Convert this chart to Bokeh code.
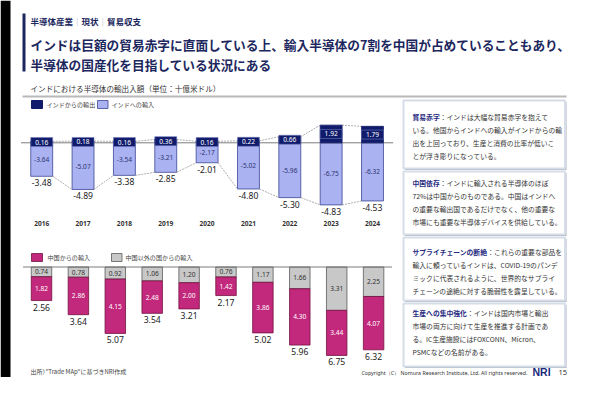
from bokeh.plotting import figure
from bokeh.models import Range1d, ColumnDataSource
from bokeh.embed import file_html
from bokeh.resources import INLINE
from bokeh.core.properties import value

# ---------------- data ----------------
years = ["2016", "2017", "2018", "2019", "2020", "2021", "2022", "2023", "2024"]
exports = [0.16, 0.18, 0.16, 0.36, 0.16, 0.22, 0.66, 1.92, 1.79]
imports = [-3.64, -5.07, -3.54, -3.21, -2.17, -5.02, -5.96, -6.75, -6.32]
balance = [-3.48, -4.89, -3.38, -2.85, -2.01, -4.80, -5.30, -4.83, -4.53]

years_b = ["2015", "2016", "2017", "2018", "2019", "2020", "2021", "2022", "2023", "2024"]
from_china = [1.82, 2.86, 4.15, 2.48, 2.00, 1.42, 3.86, 4.30, 3.44, 4.07]
from_others = [0.74, 0.78, 0.92, 1.06, 1.20, 0.76, 1.17, 1.66, 3.31, 2.25]
import_total = [2.56, 3.64, 5.07, 3.54, 3.21, 2.17, 5.02, 5.96, 6.75, 6.32]

legend_top = ["インドからの輸出", "インドへの輸入"]
legend_bot = ["中国からの輸入", "中国以外の国からの輸入"]

header = ["半導体産業", "現状", "貿易収支"]
title_lines = ["インドは巨額の貿易赤字に直面している上、輸入半導体の7割を中国が占めていることもあり、",
               "半導体の国産化を目指している状況にある"]
subtitle = "インドにおける半導体の輸出入額（単位：十億米ドル）"
notes = [
    ("貿易赤字", ["：インドは大幅な貿易赤字を抱えて",
              "いる。他国からインドへの輸入がインドからの輸",
              "出を上回っており、生産と消費の比率が低いこ",
              "とが浮き彫りになっている。"]),
    ("中国依存", ["：インドに輸入される半導体のほぼ",
              "72%は中国からのものである。中国はインドへ",
              "の重要な輸出国であるだけでなく、他の重要な",
              "市場にも重要な半導体デバイスを供給している。"]),
    ("サプライチェーンの断絶", ["：これらの重要な部品を",
                     "輸入に頼っているインドは、COVID-19のパンデ",
                     "ミックに代表されるように、世界的なサプライ",
                     "チェーンの途絶に対する脆弱性を露呈している。"]),
    ("生産への集中強化", ["：インドは国内市場と輸出",
                  "市場の両方に向けて生産を推進する計画であ",
                  "る。IC生産施設にはFOXCONN、Micron、",
                  "PSMCなどの名前がある。"]),
]
source_note = "出所）”Trade MAp”に基づきNRI作成"
copyright_txt = "Copyright（C） Nomura Research Institute, Ltd. All rights reserved."
page_no = "15"

# ---------------- style ----------------
JP = "Noto Sans CJK JP"
NUM = "Noto Sans"
NAVY = "#101c6b"
TITLE = "#1c275e"
LAV = "#aab2f2"
LAV_LINE = "#3b4694"
MAG = "#c2287c"
MAG_LINE = "#74123f"
GRAY = "#c8c8c8"
GRAY_LINE = "#5a5a5a"

W, H = 574, 377
X0, Y0 = 0, 0

p = figure(width=W, height=H, x_range=Range1d(X0, X0 + W), y_range=Range1d(Y0 + H, Y0),
           output_backend="svg", toolbar_location=None, min_border=0,
           x_axis_type=None, y_axis_type=None, outline_line_color=None,
           background_fill_color="white", border_fill_color="white")

# chart scales (pixel placement of the two charts)
TX0, TSTEP, TZERO, TPPU = 41.2, 41.35, 142.3, 9.2
BX0, BSTEP, BZERO, BPPU = 41.0, 36.9, 266.5, 13.1
p.extra_x_ranges["tx"] = Range1d((X0 - TX0) / TSTEP, (X0 + W - TX0) / TSTEP)
p.extra_y_ranges["ty"] = Range1d((TZERO - (Y0 + H)) / TPPU, (TZERO - Y0) / TPPU)
p.extra_x_ranges["bx"] = Range1d((X0 - BX0) / BSTEP, (X0 + W - BX0) / BSTEP)
p.extra_y_ranges["by"] = Range1d((BZERO - (Y0 + H)) / BPPU, (BZERO - Y0) / BPPU)


def txt(x, y, s, size, color="#333333", bold=False, align="left", font=JP, baseline="middle"):
    p.text(x=[x], y=[y], text=[s], text_font=value(font), text_font_size=f"{size}px",
           text_color=color, text_font_style="bold" if bold else "normal",
           text_align=align, text_baseline=baseline)


# ---------------- frame / header ----------------
p.quad(left=[0], right=[10], top=[0], bottom=[H], fill_color="black", line_color=None)
p.quad(left=[22], right=[25], top=[13], bottom=[71], fill_color=TITLE, line_color=None)

hx = 30
fs_h = 8.5
for i, word in enumerate(header):
    txt(hx, 20, word, fs_h, color=TITLE, bold=True)
    hx += len(word) * fs_h
    if i < len(header) - 1:
        txt(hx, 20, "｜", fs_h, color="#b0b0b0")
        hx += fs_h
txt(30, 44, title_lines[0], 12.7, color=TITLE, bold=True)
txt(30, 63.5, title_lines[1], 12.7, color=TITLE, bold=True)
txt(30, 88, subtitle, 7.6, color="#333333")
p.segment(x0=[22], y0=[96], x1=[566], y1=[96], line_color="#b9b9b9", line_width=2)

# ---------------- top chart ----------------
n = len(years)
bw = 0.53
src_t = ColumnDataSource(dict(
    x=list(range(n)), exp=exports, imp=imports, net=balance,
    exp_mid=[e / 2 for e in exports], imp_mid=[v / 2 for v in imports],
    exp_lbl=[f"{e:.2f}" for e in exports], imp_lbl=[f"{v:.2f}" for v in imports],
    net_lbl=[f"{v:.2f}" for v in balance], year=years,
    year_y=[223] * n))

p.vbar(x="x", top="imp", bottom=0, width=bw, fill_color=LAV, line_color=LAV_LINE, line_width=0.8,
       source=src_t, x_range_name="tx", y_range_name="ty")
# connector (series) lines
p.segment(x0=[i + bw / 2 for i in range(n - 1)], y0=imports[:-1],
          x1=[i + 1 - bw / 2 for i in range(n - 1)], y1=imports[1:],
          line_color="#8c8c8c", line_width=0.7, line_dash="2 1", x_range_name="tx", y_range_name="ty")
p.segment(x0=[i + bw / 2 for i in range(n - 1)], y0=exports[:-1],
          x1=[i + 1 - bw / 2 for i in range(n - 1)], y1=exports[1:],
          line_color="#8c8c8c", line_width=0.7, line_dash="2 1", x_range_name="tx", y_range_name="ty")
p.segment(x0=[-0.5], y0=[0], x1=[n - 0.5], y1=[0], line_color="#6e6e6e", line_width=0.9,
          x_range_name="tx", y_range_name="ty")
p.vbar(x="x", top="exp", bottom=0, width=bw, fill_color=NAVY, line_color=NAVY, line_width=0.8,
       source=src_t, x_range_name="tx", y_range_name="ty")
p.rect(x="x", y="exp_mid", width=bw, height=9, height_units="screen", fill_color=NAVY,
       line_color="#6f78b8", line_width=0.6, source=src_t, x_range_name="tx", y_range_name="ty")
p.text(x="x", y="exp_mid", text="exp_lbl", text_font=value(NUM), text_font_size="6.6px",
       text_color="white", text_align="center", text_baseline="middle",
       source=src_t, x_range_name="tx", y_range_name="ty")
p.text(x="x", y="imp_mid", text="imp_lbl", text_font=value(NUM), text_font_size="6.6px",
       text_color="#2d3570", text_align="center", text_baseline="middle",
       source=src_t, x_range_name="tx", y_range_name="ty")
p.text(x="x", y="imp", text="net_lbl", text_font=value(NUM), text_font_size="8.6px",
       text_color="#222222", text_align="center", text_baseline="top", y_offset=3,
       source=src_t, x_range_name="tx", y_range_name="ty")
p.text(x="x", y="year_y", text="year", text_font=value(NUM), text_font_size="6.6px",
       text_font_style="bold", text_color="#333333", text_align="center", text_baseline="middle",
       source=src_t, x_range_name="tx")

# legend top
p.quad(left=[31], right=[42], top=[100], bottom=[108], fill_color=NAVY, line_color=NAVY)
txt(46, 104, legend_top[0], 6.1, color="#444444")
p.quad(left=[97], right=[107.5], top=[100], bottom=[108], fill_color=LAV, line_color=LAV_LINE, line_width=0.8)
txt(111, 104, legend_top[1], 6.1, color="#444444")

# ---------------- bottom chart ----------------
m = len(years_b)
bw2 = 0.555
src_b = ColumnDataSource(dict(
    x=list(range(m)), year=years_b,
    oth_top=[0.0] * m,
    oth_bot=[-o for o in from_others],
    chn_bot=[-(o + c) for o, c in zip(from_others, from_china)],
    oth_mid=[-o / 2 for o in from_others],
    chn_mid=[-(o + c / 2) for o, c in zip(from_others, from_china)],
    oth_lbl=[f"{o:.2f}" for o in from_others],
    chn_lbl=[f"{c:.2f}" for c in from_china],
    tot_lbl=[f"{t:.2f}" for t in import_total]))

p.vbar(x="x", top="oth_top", bottom="oth_bot", width=bw2, fill_color=GRAY, line_color=GRAY_LINE,
       line_width=0.8, source=src_b, x_range_name="bx", y_range_name="by")
p.vbar(x="x", top="oth_bot", bottom="chn_bot", width=bw2, fill_color=MAG, line_color=MAG_LINE,
       line_width=0.8, source=src_b, x_range_name="bx", y_range_name="by")
p.segment(x0=[-0.5], y0=[0], x1=[m - 0.5], y1=[0], line_color="#6e6e6e", line_width=0.9,
          x_range_name="bx", y_range_name="by")
p.text(x="x", y="oth_mid", text="oth_lbl", text_font=value(NUM), text_font_size="6.6px",
       text_color="#333333", text_align="center", text_baseline="middle",
       source=src_b, x_range_name="bx", y_range_name="by")
p.text(x="x", y="chn_mid", text="chn_lbl", text_font=value(NUM), text_font_size="6.6px",
       text_color="white", text_align="center", text_baseline="middle",
       source=src_b, x_range_name="bx", y_range_name="by")
p.text(x="x", y="chn_bot", text="tot_lbl", text_font=value(NUM), text_font_size="8.6px",
       text_color="#222222", text_align="center", text_baseline="top", y_offset=3,
       source=src_b, x_range_name="bx", y_range_name="by")

# legend bottom
p.quad(left=[31], right=[42], top=[253], bottom=[261], fill_color=MAG, line_color=MAG_LINE, line_width=0.8)
txt(47, 257, legend_bot[0], 6.1, color="#444444")
p.quad(left=[111], right=[121.5], top=[253], bottom=[261], fill_color=GRAY, line_color=GRAY_LINE, line_width=0.8)
txt(125, 257, legend_bot[1], 6.1, color="#444444")

# ---------------- right note boxes ----------------
box_tops = [100, 171, 237, 303]
box_h = [68, 63, 63, 63]
text_off = [16, 11, 14, 9]
fs_n = 6.8
for (head, lines), top, hh, off in zip(notes, box_tops, box_h, text_off):
    p.quad(left=[404.5], right=[566], top=[top + 1.5], bottom=[top + hh + 1.5],
           fill_color="#a9b0bd", line_color=None)
    p.quad(left=[403], right=[564.5], top=[top], bottom=[top + hh],
           fill_color="white", line_color="#d6dde8", line_width=2)
    y = top + off
    txt(412, y, head, fs_n, color="#1f2a80", bold=True)
    txt(412 + len(head) * fs_n, y, lines[0], fs_n, color="#333333")
    for ln in lines[1:]:
        y += 13.3
        txt(412, y, ln, fs_n, color="#333333")

# ---------------- footer ----------------
txt(30, 371, source_note, 6.0, color="#444444")
txt(527, 372, copyright_txt, 5.3, color="#333333", align="right", font=NUM)
txt(532, 371.5, "NRI", 10.5, color="#1b2a7a", bold=True, font="Liberation Sans")
txt(558, 372, page_no, 7.5, color="#333333", font=NUM)

open("out.html", "w").write(file_html(p, INLINE))
